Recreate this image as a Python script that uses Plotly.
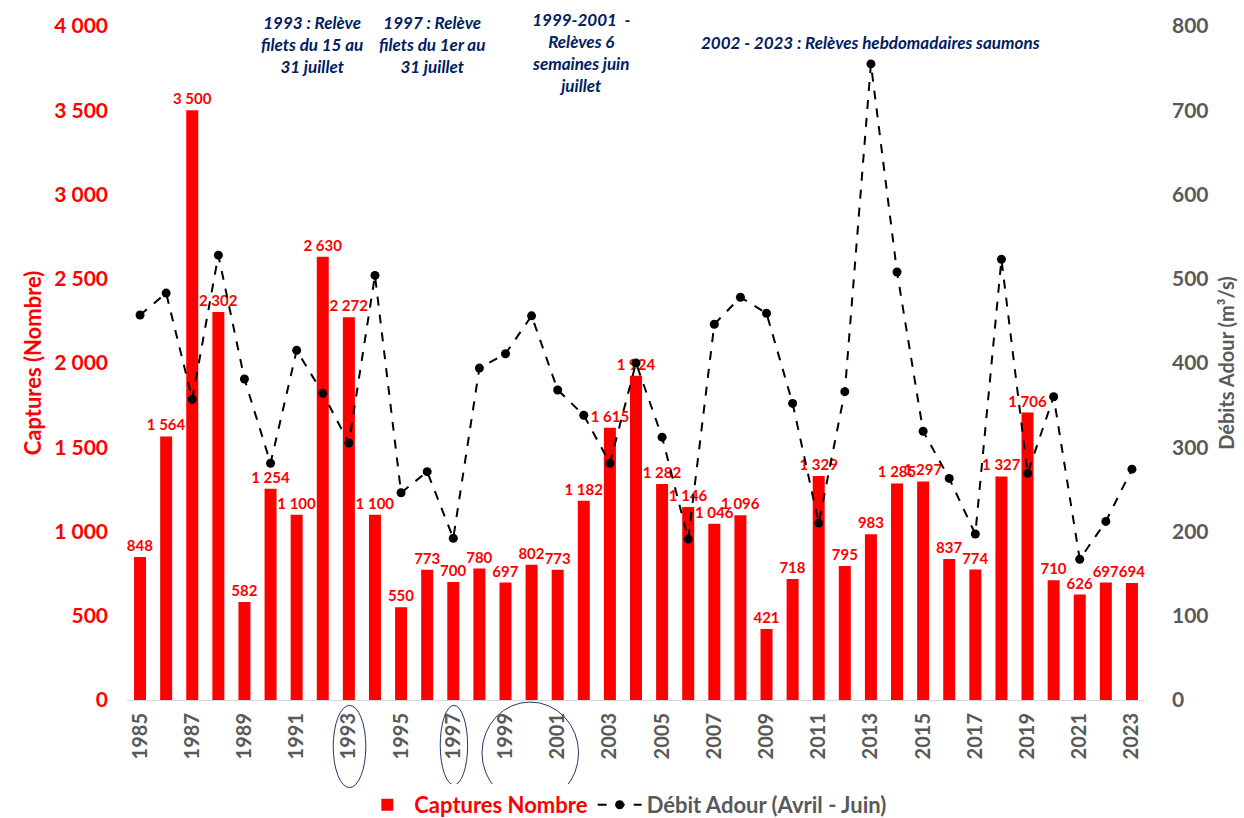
import plotly.graph_objects as go

years = list(range(1985, 2024))

captures = [848, 1564, 3500, 2302, 582, 1254, 1100, 2630, 2272, 1100,
            550, 773, 700, 780, 697, 802, 773, 1182, 1615, 1924,
            1282, 1146, 1046, 1096, 421, 718, 1329, 795, 983, 1285,
            1297, 837, 774, 1327, 1706, 710, 626, 697, 694]

debit = [457, 483, 357, 528, 381, 281, 415, 364, 305, 504,
         246, 271, 192, 394, 411, 456, 368, 338, 281, 400,
         312, 191, 446, 478, 459, 352, 210, 366, 755, 508,
         319, 263, 197, 523, 269, 360, 167, 212, 274]

left_ticks = list(range(0, 4001, 500))
right_ticks = list(range(0, 801, 100))
year_ticks = years[::2]

RED = "#FF0000"
GREY = "#595959"
NAVY = "#002060"
FONT = "Lato"

fig = go.Figure()
fig.layout.template = "plotly_white"

fig.add_trace(
    go.Bar(
        name='<span style="color:#FF0000">Captures Nombre</span>',
        x=years,
        y=captures,
        marker=dict(color=RED, line=dict(width=0)),
        texttemplate="%{y:,}",
        textposition="outside",
        textangle=0,
        constraintext="none",
        cliponaxis=False,
        textfont=dict(family=FONT, size=15, color=RED, weight="bold"),
        yaxis="y",
    )
)

fig.add_trace(
    go.Scatter(
        name="Débit Adour (Avril - Juin)",
        x=years,
        y=debit,
        mode="lines+markers",
        line=dict(color="black", width=2, dash="dash"),
        marker=dict(color="black", size=9),
        yaxis="y2",
    )
)

fig.update_layout(
    width=1244,
    height=818,
    separators=", ",
    plot_bgcolor="white",
    paper_bgcolor="white",
    bargap=0.54,
    showlegend=True,
    margin=dict(l=127, r=99, t=26, b=118),
    font=dict(family=FONT, color=GREY, size=16),
    legend=dict(
        orientation="h", x=0.49, xanchor="center",
        yref="container", y=0.016, yanchor="middle",
        font=dict(family=FONT, size=22, color=GREY, weight="bold"),
        itemwidth=44, tracegroupgap=0,
    ),
    xaxis=dict(
        range=[1984.5, 2023.5],
        tickmode="array",
        tickvals=year_ticks,
        ticktext=[str(y) for y in year_ticks],
        tickangle=-90,
        tickfont=dict(family=FONT, size=20, color=GREY, weight="bold"),
        ticklabelstandoff=4,
        showgrid=False,
        showline=True,
        linecolor="#D9D9D9",
        linewidth=1,
        ticks="",
        zeroline=False,
        automargin=False,
    ),
    yaxis=dict(
        range=[0, 4000],
        tickmode="array",
        tickvals=left_ticks,
        tickformat=",",
        tickfont=dict(family=FONT, size=21, color=RED, weight="bold"),
        ticklabelstandoff=18,
        showgrid=False,
        zeroline=False,
        showline=False,
        automargin=False,
        title=dict(text="Captures (Nombre)", standoff=6,
                   font=dict(family=FONT, size=22, color=RED, weight="bold")),
    ),
    yaxis2=dict(
        range=[0, 800],
        overlaying="y",
        side="right",
        tickmode="array",
        tickvals=right_ticks,
        tickfont=dict(family=FONT, size=21, color=GREY, weight="bold"),
        ticklabelstandoff=26,
        showgrid=False,
        zeroline=False,
        showline=False,
        automargin=False,
        title=dict(text="Débits Adour (m³/s)", standoff=12,
                   font=dict(family=FONT, size=20, color=GREY, weight="bold")),
    ),
)

# notes on the measurement periods
note_font = dict(family=FONT, size=17, color=NAVY, weight="bold", style="italic")
notes = [
    (1991.6, 1.024, "top", "1993 : Relève<br>filets du 15 au<br>31 juillet"),
    (1996.2, 1.024, "top", "1997 : Relève<br>filets du 1er au<br>31 juillet"),
    (2001.9, 1.028, "top", "1999-2001  -<br>Relèves 6<br>semaines juin<br>juillet"),
    (2013.0, 0.975, "middle", "2002 - 2023 : Relèves hebdomadaires saumons"),
]
for x, y, anchor, txt in notes:
    fig.add_annotation(x=x, xref="x", y=y, yref="paper", yanchor=anchor,
                       text=txt, showarrow=False, font=note_font, align="center")

# ellipses round the highlighted years
for x0, x1, y0, y1 in [(1992.4, 1993.65, -0.008, -0.130),
                       (1996.5, 1997.55, -0.008, -0.126),
                       (1998.1, 2001.8, -0.003, -0.154)]:
    fig.add_shape(type="circle", xref="x", yref="paper", x0=x0, x1=x1, y0=y0, y1=y1,
                  line=dict(color="#1F3864", width=1))

fig.write_html("out.html", config={"displayModeBar": False},
               post_script="document.body.style.margin='0';")
